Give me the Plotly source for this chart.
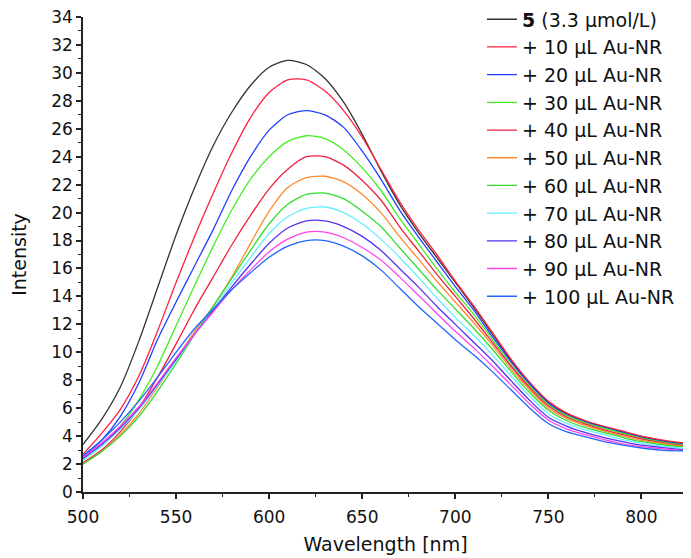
import plotly.graph_objects as go

wavelength = [500, 510, 520, 530, 540, 550, 560, 570, 580, 590, 600, 610, 620, 630, 640, 650,
              660, 670, 680, 690, 700, 710, 720, 730, 740, 750, 760, 770, 780, 790, 800, 810, 820, 825]

labels = ["<b>5</b> (3.3 μmol/L)", "+ 10 μL Au-NR", "+ 20 μL Au-NR", "+ 30 μL Au-NR",
          "+ 40 μL Au-NR", "+ 50 μL Au-NR", "+ 60 μL Au-NR", "+ 70 μL Au-NR",
          "+ 80 μL Au-NR", "+ 90 μL Au-NR", "+ 100 μL Au-NR"]

s0 = [3.4, 5.2, 7.5, 10.8, 14.6, 18.4, 21.8, 24.8, 27.2, 29.1, 30.4, 30.9, 30.6, 29.6, 27.9, 25.6,
      23.0, 20.6, 18.6, 16.8, 15.0, 13.2, 11.3, 9.4, 7.8, 6.45, 5.6, 5.05, 4.65, 4.3, 3.95, 3.7, 3.5, 3.45]
s10 = [2.7, 4.2, 5.9, 8.3, 11.5, 15.0, 18.3, 21.4, 24.3, 26.8, 28.6, 29.5, 29.5, 28.7, 27.3, 25.4,
       23.1, 20.8, 18.8, 17.0, 15.1, 13.3, 11.4, 9.5, 7.85, 6.5, 5.65, 5.1, 4.7, 4.35, 4.0, 3.75, 3.55, 3.5]
s20 = [2.5, 3.7, 5.4, 7.8, 10.9, 13.6, 16.2, 18.8, 21.6, 24.0, 25.9, 27.0, 27.3, 27.0, 26.1, 24.4,
       22.4, 20.2, 18.3, 16.5, 14.7, 13.0, 11.1, 9.3, 7.7, 6.35, 5.5, 5.0, 4.6, 4.25, 3.9, 3.65, 3.45, 3.4]
s30 = [2.3, 3.3, 4.7, 6.6, 9.0, 11.9, 14.8, 17.6, 20.2, 22.4, 24.0, 25.1, 25.5, 25.3, 24.5, 23.2,
       21.6, 19.6, 17.8, 16.0, 14.3, 12.7, 10.9, 9.1, 7.55, 6.25, 5.45, 4.95, 4.55, 4.2, 3.85, 3.6, 3.4, 3.35]
s40 = [2.1, 3.0, 4.3, 6.0, 8.2, 10.6, 13.1, 15.4, 17.7, 19.8, 21.7, 23.1, 24.0, 24.0, 23.4, 22.3,
       20.9, 19.0, 17.3, 15.6, 14.0, 12.4, 10.7, 9.0, 7.45, 6.15, 5.35, 4.85, 4.45, 4.1, 3.8, 3.55, 3.35, 3.3]
s50 = [2.0, 2.9, 4.1, 5.6, 7.5, 9.5, 11.5, 13.3, 15.4, 17.8, 20.1, 21.8, 22.5, 22.6, 22.2, 21.3,
       20.0, 18.3, 16.7, 15.1, 13.6, 12.1, 10.5, 8.8, 7.3, 6.0, 5.25, 4.75, 4.35, 4.0, 3.7, 3.5, 3.3, 3.25]
s60 = [2.0, 2.9, 4.0, 5.4, 7.2, 9.2, 11.3, 13.3, 15.3, 17.3, 19.2, 20.6, 21.3, 21.4, 21.0, 20.1,
       19.0, 17.5, 16.0, 14.5, 13.1, 11.7, 10.2, 8.6, 7.1, 5.85, 5.1, 4.6, 4.25, 3.9, 3.6, 3.4, 3.25, 3.2]
s70 = [2.3, 3.3, 4.5, 5.9, 7.6, 9.4, 11.3, 13.1, 15.0, 16.8, 18.5, 19.7, 20.3, 20.4, 20.0, 19.2,
       18.1, 16.8, 15.4, 13.9, 12.5, 11.2, 9.8, 8.3, 6.85, 5.6, 4.9, 4.45, 4.1, 3.75, 3.5, 3.3, 3.15, 3.1]
s80 = [2.4, 3.4, 4.6, 6.0, 7.7, 9.5, 11.3, 13.0, 14.7, 16.3, 17.8, 18.9, 19.4, 19.4, 19.0, 18.3,
       17.3, 16.0, 14.7, 13.3, 12.0, 10.7, 9.4, 7.95, 6.55, 5.35, 4.7, 4.25, 3.9, 3.6, 3.35, 3.2, 3.05, 3.0]
s90 = [2.5, 3.5, 4.7, 6.1, 7.8, 9.6, 11.3, 12.9, 14.5, 15.9, 17.2, 18.1, 18.6, 18.6, 18.2, 17.5,
       16.6, 15.4, 14.1, 12.8, 11.5, 10.3, 9.0, 7.65, 6.3, 5.15, 4.5, 4.1, 3.75, 3.45, 3.25, 3.1, 3.0, 2.95]
s100 = [2.6, 3.7, 5.0, 6.5, 8.2, 10.0, 11.7, 13.1, 14.5, 15.7, 16.8, 17.6, 18.0, 18.0, 17.6, 16.9,
        15.9, 14.6, 13.3, 12.1, 10.9, 9.8, 8.6, 7.3, 6.0, 4.9, 4.3, 3.95, 3.6, 3.35, 3.15, 3.0, 2.95, 2.95]

series = [s0, s10, s20, s30, s40, s50, s60, s70, s80, s90, s100]
colors = ["#333333", "#ff2040", "#2040ff", "#44ee22", "#ee2040", "#ff8a30", "#33dd33",
          "#66eeff", "#5533ee", "#ff44ee", "#2266ff"]

fig = go.Figure()
for i, (lab, ys, col) in enumerate(zip(labels, series, colors)):
    fig.add_trace(go.Scatter(x=wavelength, y=ys, mode="lines", name=lab,
                             line=dict(color=col, width=1.3, shape="spline", smoothing=0.7),
                             legendgroup="g%d" % i))

FONT = "DejaVu Sans, Arial, sans-serif"
fig.update_layout(
    width=683, height=550,
    margin=dict(l=75, r=3, t=9, b=66, autoexpand=False),
    paper_bgcolor="white", plot_bgcolor="white",
    font=dict(family=FONT, size=17, color="#111111"),
    showlegend=True,
    legend=dict(x=0.6595, xanchor="left", y=1.035, yanchor="top",
                bgcolor="rgba(0,0,0,0)", font=dict(size=19), tracegroupgap=0,
                itemwidth=30, maxheight=540),
    xaxis=dict(range=[500, 825], dtick=50, tick0=500, showgrid=False, zeroline=False,
               showline=True, linecolor="#222222", linewidth=1.5,
               ticks="outside", ticklen=5, tickwidth=1.5, tickcolor="#222222",
               minor=dict(dtick=25, tick0=500, ticks="outside", ticklen=3, tickwidth=1.2,
                          tickcolor="#222222", showgrid=False),
               title=dict(text="Wavelength [nm]", font=dict(size=19), standoff=12),
               automargin=False, tickfont=dict(size=17), ticklabelstandoff=4,
               ticklabeloverflow="allow"),
    yaxis=dict(range=[0, 34], dtick=2, tick0=0, showgrid=False, zeroline=False,
               showline=True, linecolor="#222222", linewidth=1.5,
               ticks="outside", ticklen=5, tickwidth=1.5, tickcolor="#222222",
               minor=dict(dtick=1, tick0=0, ticks="outside", ticklen=3, tickwidth=1.2,
                          tickcolor="#222222", showgrid=False),
               title=dict(text="Intensity", font=dict(size=19), standoff=24),
               automargin=False, tickfont=dict(size=17), ticklabeloverflow="allow"),
)

fig.write_html("out.html")
